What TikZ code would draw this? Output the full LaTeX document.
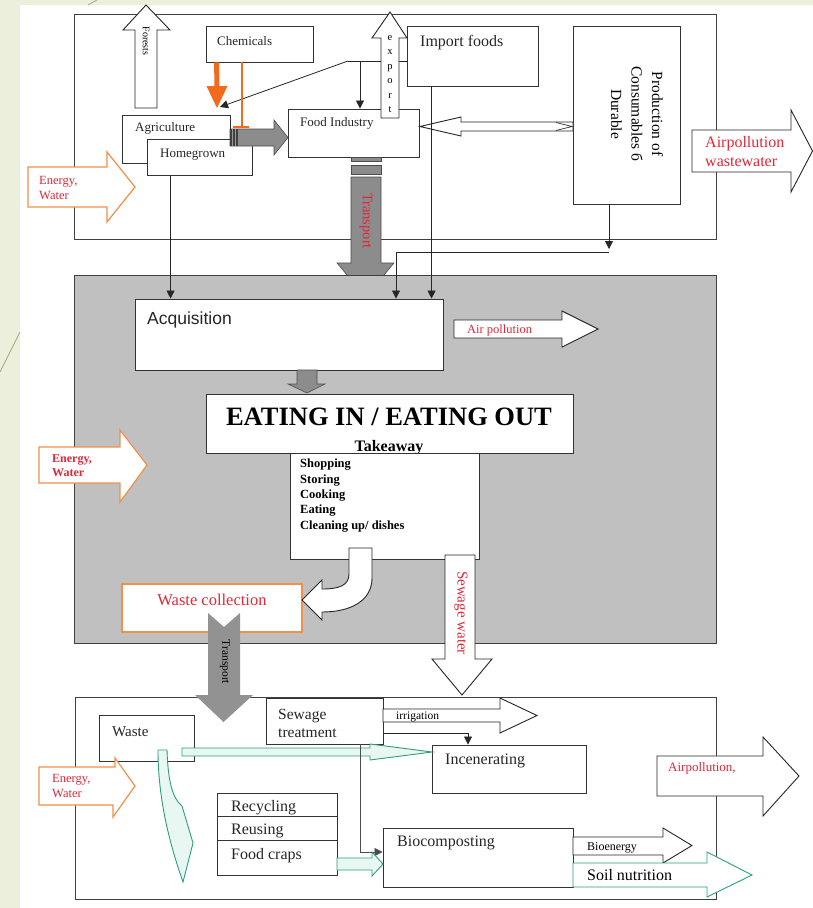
\documentclass[tikz,border=0pt]{standalone}
\usepackage{fontspec}
\setmainfont{Liberation Serif}
\newfontfamily\sansfam{Liberation Sans}
\usetikzlibrary{arrows.meta,fit,calc}

\definecolor{slidebg}{HTML}{ECEFDC}
\definecolor{slideline}{HTML}{A8A878}
\definecolor{zonegray}{HTML}{C0C0C0}
\definecolor{flowgray}{HTML}{8C8C8C}
\definecolor{chemorange}{HTML}{F26A1B}
\definecolor{warmorange}{HTML}{F0904A}
\definecolor{labelred}{HTML}{E02838}
\definecolor{tealline}{HTML}{2E9E80}
\definecolor{tealfill}{HTML}{E8F7F2}

\newcommand\fsz[2]{\fontsize{#1}{#2}\selectfont}

\begin{document}
\begin{tikzpicture}[x=1pt,y=-1pt,
  box/.style={draw=black!80, line width=0.9pt, fill=white, inner sep=0pt},
  zone/.style={draw=black!75, line width=1pt, inner sep=0pt},
  txt/.style={inner sep=0pt, anchor=west, text=black!85},
  conn/.style={draw=black!85, line width=0.8pt},
  tipd/.style={-{Triangle[length=8pt,width=8pt]}},
  hollow/.style={draw=black!85, line width=0.9pt, fill=white, line join=miter},
  warm/.style={draw=warmorange, line width=1.2pt, fill=white, line join=miter},
  greenflow/.style={draw=tealline, line width=0.9pt, fill=tealfill, line join=miter},
  gflow/.style={fill=flowgray, draw=black!70, line width=0.6pt, line join=miter},
  redtxt/.style={text=labelred, inner sep=0pt},
]
\useasboundingbox (0,0) rectangle (813,908);

% slide background
\fill[slidebg] (0,0) rectangle (813,908);
\fill[white] (20,5) rectangle (813,908);
\draw[slideline, line width=0.8pt] (97,0) -- (88,5);
\draw[slideline, line width=0.8pt] (20,332) -- (0,372);

% ================= production zone =================
\node[zone, fill=white, fit={(74,14) (716,239)}] (topzone) {};

% forests
\draw[hollow] (135,108) -- (135,30) -- (123,30) -- (146,5) -- (170,30) -- (157,30) -- (157,108) -- cycle;
\node[rotate=-90, inner sep=0pt, font=\fsz{10}{11}] (forestsT) at (146,41) {Forests};

% chemicals
\node[box, fit={(206,26) (313,62)}] (chem) {};
\node[txt, font=\fsz{13}{15}] (chemT) at (217,41) {Chemicals};

% import foods
\node[box, fit={(407,26) (538,86)}] (imp) {};
\node[txt, font=\fsz{16}{18}] (impT) at (420,43) {Import foods};

% import foods feeding agriculture and food industry
\coordinate (impJ) at (348,61);
\coordinate (impK) at (360,61);
\coordinate (agTip) at (220,107);
\draw[conn] (imp.west |- impJ) -- (impJ);
\draw[conn, tipd] (impJ) -- (agTip);

% agriculture / homegrown
\node[box, fit={(122,115) (230,163)}] (agri) {};
\node[txt, font=\fsz{13}{15}] (agriT) at (135,128) {Agriculture};
\node[box, fit={(147,139) (252,175)}] (home) {};
\node[txt, font=\fsz{13}{15}] (homeT) at (160,155) {Homegrown};

% food industry
\node[box, fit={(288,109) (419,157)}] (food) {};
\node[txt, font=\fsz{13}{15}] (foodT) at (300,123) {Food Industry};
\draw[conn, tipd] (impK) -- (impK |- food.north);

% chemicals: thick arrow and blocked line
\coordinate (chemTip) at (217,108);
\draw[chemorange, line width=5pt] ([xshift=11]chem.south west) -- ([yshift=-25]chem.south west -| chemTip);
\fill[chemorange] (206.5,86) -- (227.5,86) -- (chemTip) -- cycle;
\coordinate (chemBar) at (242,127);
\draw[chemorange, line width=2.6pt] (chem.south -| chemBar) -- (chemBar);
\draw[chemorange, line width=2.6pt] ([xshift=-9]chemBar) -- ([xshift=7]chemBar);

% agriculture to food industry
\draw[gflow] (230,129) -- (274,129) -- (274,120) -- (288,137.5) -- (274,155) -- (274,146) -- (230,146) -- cycle;
\fill[black!75] (230,129) rectangle (238,146);
\draw[black!40, line width=0.5pt] (232.5,129) -- (232.5,146) (235.5,129) -- (235.5,146);

% export
\draw[hollow] (381,118) -- (381,38) -- (372,38) -- (390,12) -- (407,38) -- (399,38) -- (399,118) -- cycle;
\node[inner sep=0pt, align=center, font=\fsz{10.5}{14.4}] (exportT) at (390,74) {e\\x\\p\\o\\r\\t};

% durable goods
\node[box, fit={(573,26) (680,204)}] (prod) {};
\node[rotate=-90, inner sep=0pt, align=center, font=\fsz{15.5}{20.5}] (prodT) at (637,114)
  {Production of\\Consumables б\\Durable};
\draw[hollow] (420,126.5) -- (461,117) -- (461,122) -- (573,122) -- (573,131) -- (461,131) -- (461,136) -- cycle;
\draw[black!85, line width=0.7pt] (556,122.5) -- (572,126.5) -- (556,130.5);

% emissions of production zone
\draw[hollow] (692,130) -- (791,130) -- (791,110) -- (812.5,151) -- (791,192) -- (791,172) -- (692,172) -- cycle;
\node[redtxt, anchor=west, align=left, font=\fsz{16}{19}] (apT) at (705,152) {Airpollution\\wastewater};

% energy into production zone
\draw[warm] (28,167) -- (107,167) -- (107,152) -- (135,187) -- (107,222) -- (107,207) -- (28,207) -- cycle;
\node[redtxt, anchor=west, align=left, font=\fsz{12.5}{15.5}] (enT1) at (39,188) {Energy,\\Water};

% transport to consumption
\draw[gflow] (351,157) rectangle (381,161);
\draw[gflow] (351,165) rectangle (381,174);
\draw[gflow] (351,177) -- (381,177) -- (381,263) -- (394,263) -- (365.5,297) -- (337,263) -- (351,263) -- cycle;
\node[rotate=-90, redtxt, font=\fsz{14.5}{16}] (trT1) at (366,221) {Transport};

% ================= consumption zone =================
\node[zone, fill=zonegray, fit={(74,275) (716,643)}] (midzone) {};

\node[box, fit={(135,299) (443,370)}] (acq) {};
\node[txt, font=\sansfam\fsz{17.5}{20}] (acqT) at (147,320) {Acquisition};

% supply lines into acquisition
\draw[conn, tipd] ([xshift=24]home.south west) -- ([xshift=24]home.south west |- acq.north);
\draw[conn, tipd] ([xshift=25]imp.south west) -- ([xshift=25]imp.south west |- acq.north);
\coordinate (busR) at (609,252);
\coordinate (busL) at (396,252);
\draw[conn, tipd] (prod.south -| busR) -- ([yshift=3]busR);
\draw[conn, tipd] (busR) -- (busL) -- (busL |- acq.north);

% air pollution
\draw[hollow] (454,320) -- (562,320) -- (562,311) -- (598,329) -- (562,347) -- (562,338) -- (454,338) -- cycle;
\node[redtxt, anchor=west, font=\fsz{12.5}{14}] (apT2) at (467,330) {Air pollution};

% acquisition to eating
\draw[gflow] (297,370) -- (317,370) -- (317,384) -- (325,384) -- (307,393) -- (288,384) -- (297,384) -- cycle;

% activities
\node[box, fit={(290,453) (479,559)}] (act) {};
\node[inner sep=0pt, anchor=north west, align=left, font=\bfseries\fsz{12.5}{15.3}] (actT) at (300,459)
  {Shopping\\Storing\\Cooking\\Eating\\Cleaning up/ dishes};

% eating
\node[box, fit={(206,394) (573,453)}] (eat) {};
\node[inner sep=0pt, font=\bfseries\fsz{26.5}{28}] (eatT) at (389,417) {EATING IN / EATING OUT};
\begin{scope}
  \clip (eat.north west) rectangle (eat.south east);
  \node[inner sep=0pt, anchor=base, font=\bfseries\fsz{16}{18}] (takeT) at (389,451) {Takeaway};
\end{scope}
\draw[black!80, line width=0.9pt] (eat.south west) -- (eat.south east);

% waste collection
\node[box, draw=warmorange, line width=1.2pt, fit={(122,584) (302,632)}] (wcol) {};
\node[redtxt, font=\fsz{16.5}{18}] (wcolT) at (212,600) {Waste collection};

% activities to waste collection
\draw[hollow] (349,548) -- (372,548) -- (372,578) .. controls (372,600) and (352,612) .. (322,612)
  -- (322,620) -- (302,600) -- (322,580) -- (322,589) .. controls (340,589) and (349,585) .. (349,574) -- cycle;

% energy into consumption zone
\draw[warm] (39,447) -- (120,447) -- (120,430) -- (147,465) -- (120,502) -- (120,483) -- (39,483) -- cycle;
\node[redtxt, anchor=west, align=left, font=\bfseries\fsz{12}{14}] (enT2) at (52,466) {Energy,\\Water};

% sewage water
\draw[hollow] (445,555) -- (475,555) -- (475,659) -- (492,659) -- (462,695) -- (432,659) -- (445,659) -- cycle;
\node[rotate=-90, redtxt, font=\fsz{15}{17}] (swT) at (461,613) {Sewage water};

% ================= waste zone =================
\node[zone, fill=white, fit={(75,697) (716,899)}] (botzone) {};

% transport of collected waste
\fill[flowgray!95] (208,613) -- (224,627) -- (240,613) -- (240,695) -- (253,695) -- (223.5,722) -- (195,695) -- (208,695) -- cycle;
\node[rotate=-90, inner sep=0pt, font=\fsz{11.5}{12}] (trT2) at (225,662) {Transport};

\node[box, fit={(99,715) (194,761)}] (waste) {};
\node[txt, font=\fsz{15}{17}] (wasteT) at (112,732) {Waste};

\node[box, fit={(266,698) (383,744)}] (sew) {};
\node[txt, align=left, font=\fsz{15.5}{18}] (sewT) at (278,723) {Sewage\\treatment};

% irrigation
\draw[hollow] (383,709) -- (500,709) -- (500,698) -- (537,715.5) -- (500,733) -- (500,722) -- (383,722) -- cycle;
\node[anchor=west, inner sep=0pt, font=\fsz{11.5}{12}] (irrT) at (396,717) {irrigation};

\node[box, fit={(432,745) (586,793)}] (inc) {};
\node[txt, font=\fsz{16}{18}] (incT) at (445,761) {Incenerating};
\coordinate (incIn) at (468,733);
\draw[conn, tipd] (sew.east |- incIn) -- (incIn) -- (incIn |- inc.north);

% waste to incineration
\draw[greenflow] (182,748) -- (370,748) -- (370,744) -- (432,752) -- (370,760) -- (370,756) -- (182,756) -- cycle;

% sewage sludge to biocomposting
\node[box, fit={(383,828) (573,887)}] (bio) {};
\node[txt, font=\fsz{16}{18}] (bioT) at (397,843) {Biocomposting};
\coordinate (sludge) at (360,852);
\draw[draw=black!70, line width=0.8pt, tipd] (sew.south -| sludge) -- (sludge) -- (sludge -| bio.west);

% waste down to recycling
\draw[greenflow] (158,750) -- (167,750) .. controls (168,780) and (172,798) .. (182,806) -- (193,843) -- (183,882)
  .. controls (170,845) and (158,800) .. (158,750) -- cycle;

% recycling stack
\node[box, fit={(217,793) (337,875)}] (rec) {};
\draw[black!80, line width=0.9pt] (rec.west |- 0,816) -- (rec.east |- 0,816);
\draw[black!80, line width=0.9pt] (rec.west |- 0,840) -- (rec.east |- 0,840);
\node[txt, font=\fsz{16}{18}] (recT1) at (231,808) {Recycling};
\node[txt, font=\fsz{16}{18}] (recT2) at (231,831) {Reusing};
\node[txt, font=\fsz{16}{18}] (recT3) at (231,856) {Food craps};

% food scraps to biocomposting
\draw[greenflow] (337,858) -- (372,858) -- (372,852) -- (383,864) -- (372,876) -- (372,870) -- (337,870) -- cycle;

% bioenergy
\draw[hollow] (573,837) -- (663,837) -- (663,828) -- (692,845.5) -- (663,863) -- (663,855) -- (573,855) -- cycle;
\begin{scope}
  \clip (573,837) rectangle (663,853.5);
  \node[anchor=west, inner sep=0pt, font=\fsz{12}{13}] (bioeT) at (587,848) {Bioenergy};
\end{scope}

% soil nutrition
\draw[greenflow, fill=white] (573,863) -- (707,863) -- (707,852) -- (752,875) -- (707,897) -- (707,887) -- (573,887) -- cycle;
\node[anchor=west, inner sep=0pt, font=\fsz{16}{18}] (soilT) at (587,875) {Soil nutrition};

% airpollution of waste zone
\draw[hollow] (657,756) -- (763,756) -- (763,737) -- (799,776) -- (763,816) -- (763,796) -- (657,796) -- cycle;
\node[redtxt, anchor=west, font=\fsz{13}{14}] (apT3) at (668,768) {Airpollution,};

% energy into waste zone
\draw[warm] (39,767) -- (115,767) -- (115,758) -- (135,786) -- (113,817) -- (113,805) -- (39,805) -- cycle;
\node[redtxt, anchor=west, align=left, font=\fsz{12.5}{15.5}] (enT3) at (52,786) {Energy,\\Water};

\end{tikzpicture}
\end{document}
